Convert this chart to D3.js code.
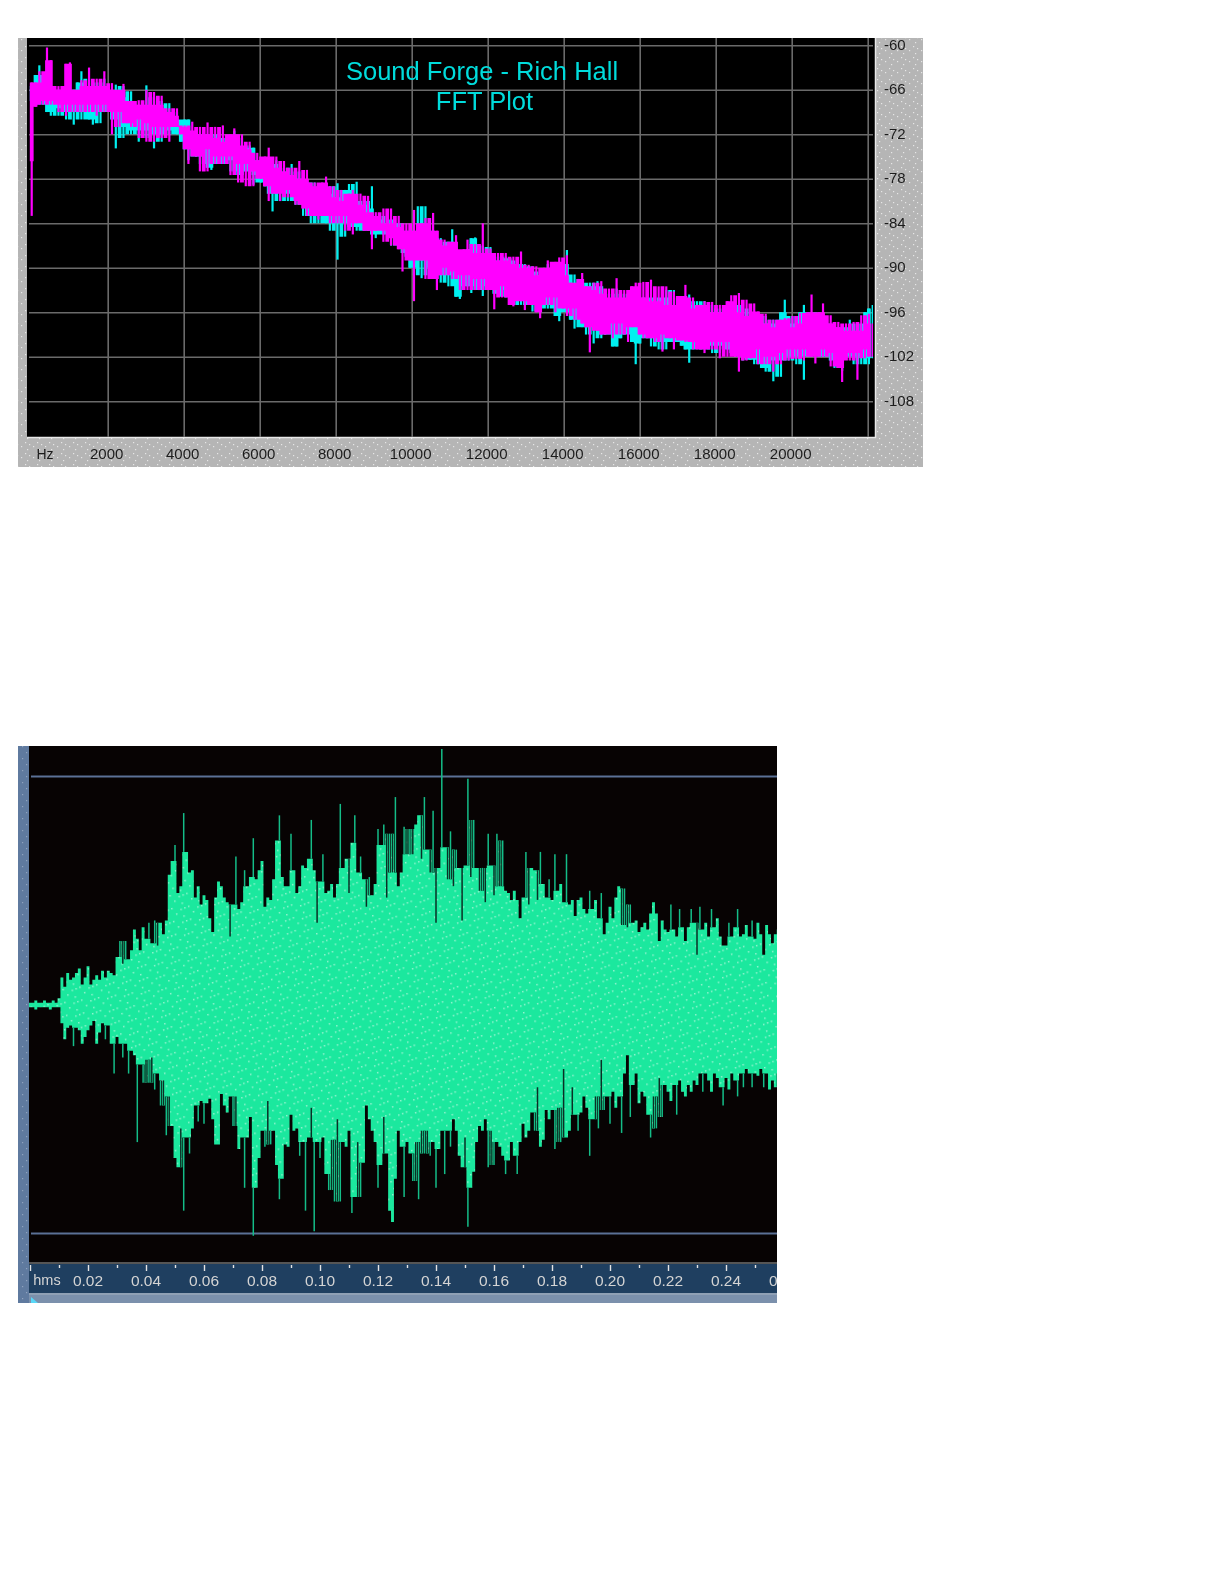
<!DOCTYPE html>
<html><head><meta charset="utf-8">
<script src="https://cdn.jsdelivr.net/npm/d3@7"></script>
<style>html,body{margin:0;padding:0;background:#fff}svg{display:block;filter:blur(0.35px)}text{font-family:"Liberation Sans",Arial,sans-serif}</style>
</head><body><div id="c"></div>
<script>
const fftTicks=[2000,4000,6000,8000,10000,12000,14000,16000,18000,20000];
const fftGridExtra=[22000];
const dbTicks=[-60,-66,-72,-78,-84,-90,-96,-102,-108];
const fftTitle=["Sound Forge - Rich Hall","FFT Plot"];
const binHz=100.6;
const magentaHi=[-65,-65,-63.5,-66,-60.3,-62,-66.5,-65.5,-66,-62.5,-62.3,-66,-66,-64.7,-65.5,-63,-66,-64.5,-65.5,-63.5,-66,-65.1,-67,-66,-65.2,-67.5,-67.5,-68,-67.4,-68,-66,-68,-66.3,-68,-66.8,-69,-68.5,-69.5,-68.5,-71,-70.8,-71.5,-70.3,-72.5,-71,-72,-70.4,-72.5,-71,-73,-70.8,-73,-72,-71.2,-73.5,-72,-74,-73,-75.5,-74.5,-76,-75,-73.8,-76.5,-75,-77,-75.6,-77.5,-76.5,-78,-75.6,-78,-76.8,-79,-78.5,-80,-78.5,-77.7,-80.5,-79,-81,-79.5,-81.5,-80,-79.5,-81.5,-80,-82.5,-80.3,-83,-82.5,-84,-82,-84,-82,-84.5,-83,-85,-84,-85,-82.2,-85,-84,-83.3,-85.5,-82.6,-85,-87,-86.2,-87.5,-86.5,-85.6,-88,-87.5,-86.2,-88,-86.8,-88.5,-84,-88,-87.4,-89,-88,-89,-88,-89.5,-88.5,-90,-87.8,-90,-89.6,-91,-89.8,-91,-90,-89,-91.5,-89.2,-88.6,-91,-88.3,-92,-93,-91.5,-90.7,-92.5,-93,-92,-93.5,-91.8,-94,-92.8,-94.5,-91.4,-94,-93,-94.5,-92.5,-92,-94,-91.9,-95,-91.6,-94.5,-92.5,-95,-92.5,-95,-93.2,-95.5,-93.8,-92.3,-95.5,-94,-96,-95,-94.5,-96.5,-94.6,-96,-95,-96.5,-94.5,-93.7,-96,-93.4,-96.5,-94.3,-96.5,-94.8,-95.9,-97.5,-96.2,-98,-97,-98,-97,-96.8,-98.5,-96.5,-98,-96.1,-97.5,-96,-93.6,-97,-96,-94.8,-97.5,-96.4,-98,-97.3,-99,-97.5,-98.5,-97.3,-99,-96.4,-98.5,-96.2,-97.5];
const magentaLo=[-83,-68.3,-67,-68,-67.5,-68,-67.5,-69,-68,-69.5,-68,-69,-68,-69,-68,-69,-67.5,-69.5,-68,-69,-68,-72,-69,-71,-69,-70.5,-71,-69.5,-72.5,-70,-73,-70.5,-73,-71,-72.5,-71,-73,-70,-71,-72,-74,-76,-73.5,-75,-77,-74,-77,-74,-76,-75,-76,-74,-77.5,-75,-78.5,-76,-79,-76,-79,-77,-78,-79,-81,-78,-80,-81,-79,-80.5,-79.5,-81.5,-81,-82,-83,-81,-83,-83.5,-81.5,-83,-84,-82.5,-84,-83,-85,-83,-85.5,-84,-83.5,-85,-85,-87.5,-85,-84.5,-86.5,-85,-87,-86,-87.5,-90.5,-87,-89,-94.5,-87.5,-89,-91.5,-89,-91.5,-93,-90,-91,-90,-91.5,-90.5,-93,-91,-93,-91,-93,-91.5,-93,-91.5,-93,-95.6,-92,-94,-92.5,-95,-95.2,-93,-94.5,-95.7,-93,-95,-96,-96.8,-94,-95,-94,-96,-94,-95.5,-96.5,-94.5,-97,-95.5,-97.5,-98,-101.4,-96.5,-98.5,-99,-99,-97,-99.5,-97.5,-99,-97.5,-100,-98,-97.5,-99,-99.5,-98,-99.5,-100,-99,-101.3,-99,-99.5,-101,-99,-99.8,-100,-99,-101,-100,-101,-101.5,-100,-101,-100,-102.2,-100,-102,-100,-102,-104,-100.5,-102.5,-102.2,-101,-103,-101,-103,-102,-104,-101.5,-103,-101,-102.5,-101,-102.3,-101,-102.5,-101,-102,-102.9,-101,-102,-101,-103.3,-101.5,-103.5,-105.4,-101.5,-102.5,-101.5,-105.1,-101,-102.2,-101,-102];
const cyanHi=[-67,-64,-62.7,-66,-64,-67,-66,-67,-65.5,-67,-66,-67,-65,-63.5,-67,-64.5,-67,-65,-66.5,-64.5,-67,-67,-65.3,-67,-65.5,-68,-66.2,-68.5,-68,-69,-65.4,-69,-67,-69,-67.5,-69.5,-67.8,-70,-69,-71,-70,-70,-72,-72,-73,-72,-73,-72,-73,-71.5,-73,-72.5,-74,-71.5,-74,-72.5,-74,-73.5,-73.8,-75.5,-76.5,-75.5,-76.5,-76,-75.5,-77,-76.5,-78,-76,-78,-77,-78.5,-78,-79.5,-78.5,-80,-79,-80,-79,-80.5,-78.6,-81,-79.5,-78.7,-81,-78.4,-81.5,-81,-82,-79,-83.5,-83,-84,-82.5,-84,-83.5,-85,-84,-85.5,-85,-85,-81.7,-85.5,-81.7,-85,-85,-87,-86,-87.5,-86.5,-84.8,-87.5,-88,-88.5,-87.5,-86,-85.9,-88.5,-87,-88.5,-87.2,-89,-88.5,-89.5,-88.5,-88.7,-90,-89,-90,-89.5,-90.5,-89.8,-91,-90.5,-91,-89.5,-91,-90,-91,-89.5,-87.6,-92,-90.9,-92.5,-91.5,-92.5,-92,-93,-91.8,-92.5,-94.5,-93.5,-95,-92.8,-94.5,-93.5,-94.5,-93.5,-94.5,-93,-95,-94,-95,-94,-95,-94,-93,-95,-93,-95,-94,-95,-93.6,-95.5,-94.5,-96,-94.5,-96,-95,-96,-95.5,-96.5,-95,-96,-95,-96.5,-95,-96.5,-95.5,-97,-96.5,-97.5,-96.5,-97.5,-97,-98,-96,-94.3,-97.5,-96.5,-97.5,-96,-95,-97,-96,-97,-96,-97.5,-96.5,-98,-97.5,-99,-98,-99,-97,-98.5,-97.5,-98.5,-96,-95.5,-95];
const cyanLo=[-68,-67,-68,-67.5,-69,-69.5,-68,-69.5,-68.5,-70,-69,-70.7,-69,-70,-68.5,-70,-70.7,-69,-70.5,-69,-68.5,-70,-73.9,-70,-72.5,-71,-72,-71.5,-73,-71.5,-72.5,-71,-73.9,-72,-73,-71.5,-72,-71,-72,-73,-74,-75.5,-74,-75,-76,-75,-76.5,-76.8,-75,-76,-76,-75,-77,-75.5,-77.5,-78,-77,-76.5,-78.8,-77.5,-78.5,-79,-80,-82.4,-79,-81,-79.5,-81,-80,-81.5,-81,-83,-81.5,-84,-83,-84,-82,-84,-85,-83,-88.9,-84,-85.8,-84,-84.5,-85,-83.5,-85,-85,-85.5,-86,-85,-85.5,-85.5,-87,-85.5,-87,-88,-88.5,-90,-91,-88,-91.4,-89,-91,-90,-91,-92,-91,-92.5,-91,-93.9,-94.2,-91.5,-92.5,-93.4,-92,-93,-93.8,-92,-92.5,-93.5,-93.9,-93,-94,-93,-95,-94,-95,-94,-95,-95.9,-94.5,-96,-95,-95.5,-95,-96.5,-97.2,-95,-96,-97,-98.2,-96.5,-98,-99,-98,-100.2,-98,-99.5,-99,-98,-100.6,-100.6,-99.5,-99,-99,-100,-103,-100.2,-99,-99.5,-100.6,-99,-101,-100,-101,-100,-100,-100,-100.5,-101,-102.8,-100,-101,-100,-101,-100,-101.5,-100.5,-101.5,-100.5,-101,-101.5,-102,-101,-102.5,-101,-102.4,-103,-101.5,-103.5,-104,-102,-105.3,-102.5,-104.7,-102,-102.5,-102,-103,-102,-105.1,-102,-101,-102,-101.5,-102,-102,-102.5,-103.5,-102,-103.9,-102,-102,-103,-102,-103,-102,-103,-102.2];

const timeTicks=[0.02,0.04,0.06,0.08,0.10,0.12,0.14,0.16,0.18,0.20,0.22,0.24,0.26];
const minorTimeTicks=[0.01,0.03,0.05,0.07,0.09,0.11,0.13,0.15,0.17,0.19,0.21,0.23,0.25];
const ampGuides=[100,-100];
const sampleSec=0.001;
const waveTop=[1,1,2,1,1,2,1,1,2,1,3,12,8,14,11,12,14,16,9,12,17,9,11,13,11,15,12,15,14,13,21,28,18,28,20,24,33,29,24,34,29,36,27,37,26,36,31,37,57,63,70,49,52,84,67,58,59,47,52,44,48,46,38,32,47,54,52,47,45,30,44,65,42,45,59,52,56,73,55,59,63,43,47,46,55,72,83,56,52,52,75,59,49,52,61,60,64,81,59,36,54,66,49,50,53,47,53,88,60,64,49,71,83,58,65,55,43,56,48,53,77,70,79,47,75,58,91,52,58,78,66,77,66,79,83,64,91,68,58,85,36,60,112,69,55,76,52,68,60,37,61,99,56,81,60,50,60,45,75,61,48,75,52,72,50,49,46,50,46,38,47,67,44,60,59,46,67,53,47,55,46,66,50,53,45,66,44,46,39,46,47,42,40,50,42,46,38,49,31,36,43,38,47,52,35,51,34,44,36,37,32,34,36,33,40,45,40,28,37,33,32,44,33,30,42,34,28,34,42,36,22,43,33,36,30,42,34,38,30,26,26,36,30,34,42,30,31,35,30,37,29,36,31,22,35,31,27,31,33,30];
const waveBottom=[1,1,2,1,1,1,1,2,1,1,1,8,15,10,9,18,10,11,17,14,11,9,7,17,12,8,15,9,17,30,14,17,23,17,30,20,22,60,26,34,24,34,23,37,30,44,33,57,40,53,67,71,54,90,58,65,54,44,51,42,52,43,41,50,61,61,39,44,47,40,53,40,63,58,80,58,49,101,80,67,55,62,42,61,55,70,85,76,61,62,48,55,54,66,60,90,58,45,99,60,67,58,74,81,59,86,50,86,60,62,55,91,84,60,84,69,44,50,55,60,80,70,49,65,90,95,76,55,62,84,60,65,77,60,85,55,65,55,66,60,80,63,55,74,55,62,50,55,66,71,58,97,80,73,60,53,55,50,71,55,70,60,62,66,74,68,60,66,74,60,52,58,55,47,55,36,62,59,46,50,46,63,45,60,28,58,55,36,48,55,47,40,45,66,50,40,54,24,46,40,52,38,45,40,56,30,22,49,35,30,43,38,40,48,58,40,54,32,49,35,38,42,35,48,33,38,40,35,38,33,35,30,38,30,33,38,30,32,36,44,32,37,30,33,40,30,36,28,30,36,30,31,28,36,30,37,33,36,30,34];

const svg=d3.select("#c").append("svg").attr("width",1225).attr("height",1585);
const defs=svg.append("defs");
function dots(id,bg,dot,w,h,pts,rot,s){
  const p=defs.append("pattern").attr("id",id).attr("patternUnits","userSpaceOnUse").attr("width",w).attr("height",h);
  if(rot)p.attr("patternTransform","rotate("+rot+")");
  if(bg)p.append("rect").attr("width",w).attr("height",h).attr("fill",bg);
  pts.forEach(q=>p.append("rect").attr("x",q[0]).attr("y",q[1]).attr("width",s).attr("height",s).attr("fill",dot));
}
dots("grayDots","#b5b5b5","#e6e6e6",12,11,[[1,2],[5,4],[9,6],[3,9]],0,1.2);
dots("blueDots","#5f7a9f","#8fa3bf",10,12,[[2,2],[6,8]],0,1.2);
dots("greenDots","#1be89e","#93f3cf",17,13,[[1,2],[5,1],[9,0],[13,6],[3,9]],-8,1.5);
defs.append("clipPath").attr("id","waveClip").append("rect").attr("x",29).attr("y",746).attr("width",748).attr("height",557);
defs.append("clipPath").attr("id","fftClip").append("rect").attr("x",29).attr("y",38).attr("width",844).attr("height",399);

/* FFT */
const fftG=svg.append("g");
fftG.append("rect").attr("x",18).attr("y",38).attr("width",905).attr("height",429).attr("fill","url(#grayDots)");
fftG.append("rect").attr("x",27).attr("y",38).attr("width",848).attr("height",399).attr("fill","#000");
fftG.append("path").attr("d","M875.5,38V437.5H27").attr("fill","none").attr("stroke","#e8e8e8").attr("stroke-width",1.5);
const xHz=d3.scaleLinear().domain([0,22000]).range([31.7,867.7]);
const yDb=d3.scaleLinear().domain([-60,-108]).range([45.3,401.3]);
const gridCol="#6a6a6a";
const gx=fftG.append("g").attr("transform","translate(0,437)")
 .call(d3.axisBottom(xHz).tickValues(fftTicks.concat(fftGridExtra)).tickSize(-399).tickFormat(""));
gx.select(".domain").remove();
gx.selectAll("line").attr("stroke",gridCol).attr("stroke-width",1.6);
const gy=fftG.append("g").attr("transform","translate(29,0)")
 .call(d3.axisRight(yDb).tickValues(dbTicks).tickSize(844).tickFormat(""));
gy.select(".domain").remove();
gy.selectAll("line").attr("stroke",gridCol).attr("stroke-width",1.6);
const xl=fftG.append("g").attr("transform","translate(-1.5,446)")
 .call(d3.axisBottom(xHz).tickValues(fftTicks).tickSize(0).tickFormat(d=>String(d)));
xl.select(".domain").remove();
xl.selectAll("text").attr("dy",0).attr("y",13).attr("font-size",15).attr("fill","#1c1c1c");
fftG.append("text").attr("x",45).attr("y",459).attr("text-anchor","middle").attr("font-size",14).attr("fill","#1c1c1c").text("Hz");
const yl=fftG.append("g").attr("transform","translate(884,-1)")
 .call(d3.axisRight(yDb).tickValues(dbTicks).tickSize(0).tickPadding(0).tickFormat(d=>String(d)));
yl.select(".domain").remove();
yl.selectAll("text").attr("font-size",15).attr("fill","#1c1c1c");
const hz=i=>i*binHz;
function near(arr,i){return arr.slice(Math.max(0,i-1),i+2);}
function spectrum(hi,lo,color){
  const g=fftG.append("g").attr("clip-path","url(#fftClip)");
  const body=d3.area().x((d,i)=>xHz(hz(i))-1.9)
    .y0((d,i)=>yDb(d3.median(near(lo,i)))).y1((d,i)=>yDb(d3.median(near(hi,i)))).curve(d3.curveStepAfter);
  g.append("path").datum(hi).attr("d",body).attr("fill",color);
  g.selectAll("line").data(d3.zip(hi,lo)).join("line")
    .attr("x1",(d,i)=>xHz(hz(i))).attr("x2",(d,i)=>xHz(hz(i)))
    .attr("y1",d=>yDb(d[0])).attr("y2",d=>yDb(d[1]))
    .attr("stroke",color).attr("stroke-width",2.2);
}
spectrum(cyanHi,cyanLo,"#00f0f0");
spectrum(magentaHi,magentaLo,"#ff00ff");
fftG.selectAll("text.title").data(fftTitle).join("text").attr("class","title")
 .attr("x",(d,i)=>[482,484.5][i]).attr("y",(d,i)=>[80,110][i]).attr("text-anchor","middle")
 .attr("font-size",25.5).attr("fill","#00dcdc").text(d=>d);

/* Waveform */
const wG=svg.append("g");
wG.append("rect").attr("x",18).attr("y",746).attr("width",759).attr("height",557).attr("fill","url(#blueDots)");
wG.append("rect").attr("x",29).attr("y",746).attr("width",748).attr("height",516).attr("fill","#070303");
wG.append("rect").attr("x",29).attr("y",1262).attr("width",748).attr("height",2).attr("fill","#555");
wG.append("rect").attr("x",29).attr("y",1264).attr("width",748).attr("height",29).attr("fill","#1f3f60");
wG.append("rect").attr("x",29).attr("y",1293).attr("width",748).attr("height",10).attr("fill","#7b90ac");
wG.append("rect").attr("x",29).attr("y",1293).attr("width",748).attr("height",2).attr("fill","#8fa0b5");
wG.append("path").attr("d","M31,1297L38,1303H31Z").attr("fill","#58d8f8");
const tS=d3.scaleLinear().domain([0.02,0.24]).range([88,726]);
const aS=d3.scaleLinear().domain([100,-100]).range([776.5,1233.5]);
const wc=wG.append("g").attr("clip-path","url(#waveClip)");
wc.selectAll("line.guide").data(ampGuides).join("line").attr("class","guide")
 .attr("x1",31).attr("x2",777).attr("y1",d=>aS(d)).attr("y2",d=>aS(d)).attr("stroke","#5b7196").attr("stroke-width",1.8);
const tm=i=>i*sampleSec;
/* a column far above or below its neighbours is a thin spike or notch, the rest is solid body */
function bodyLevel(arr,i){
  const m=d3.median(near(arr,i)),v=arr[i];
  return (v-m>5||m-v>9)?m:v;
}
wc.append("path").datum(waveTop)
 .attr("d",d3.area().x((d,i)=>tS(tm(i))-1.45)
   .y0((d,i)=>aS(-bodyLevel(waveBottom,i))).y1((d,i)=>aS(bodyLevel(waveTop,i))).curve(d3.curveStepAfter))
 .attr("fill","url(#greenDots)");
function spikes(values,sign){
  wc.append("g").selectAll("line").data(values).join("line")
   .attr("x1",(d,i)=>tS(tm(i))).attr("x2",(d,i)=>tS(tm(i)))
   .attr("y1",(d,i)=>aS(sign*bodyLevel(values,i))).attr("y2",d=>aS(sign*d))
   .attr("stroke",(d,i)=>d>=bodyLevel(values,i)?"#14bd88":"#0a3026").attr("stroke-width",1.5);
}
spikes(waveTop,1);
spikes(waveBottom,-1);
const rg=wG.append("g").attr("clip-path","url(#waveClip)");
const major=rg.append("g").attr("transform","translate(0,1265)")
 .call(d3.axisBottom(tS).tickValues([0.00].concat(timeTicks)).tickSize(6).tickFormat(d=>d===0?"":d3.format(".2f")(d)));
major.select(".domain").remove();
major.selectAll("line").attr("stroke","#e4e4e4").attr("stroke-width",1.4);
major.selectAll("text").attr("y",7).attr("x",-0.5).attr("dy","0.9em").attr("font-size",15.5).attr("fill","#d4d4d4");
const minor=rg.append("g").attr("transform","translate(0,1265)")
 .call(d3.axisBottom(tS).tickValues(minorTimeTicks).tickSize(3).tickFormat(""));
minor.select(".domain").remove();
minor.selectAll("line").attr("stroke","#e4e4e4").attr("stroke-width",1.4);
wG.append("text").attr("x",47).attr("y",1285).attr("text-anchor","middle").attr("font-size",14.5).attr("fill","#d4d4d4").text("hms");
</script></body></html>
